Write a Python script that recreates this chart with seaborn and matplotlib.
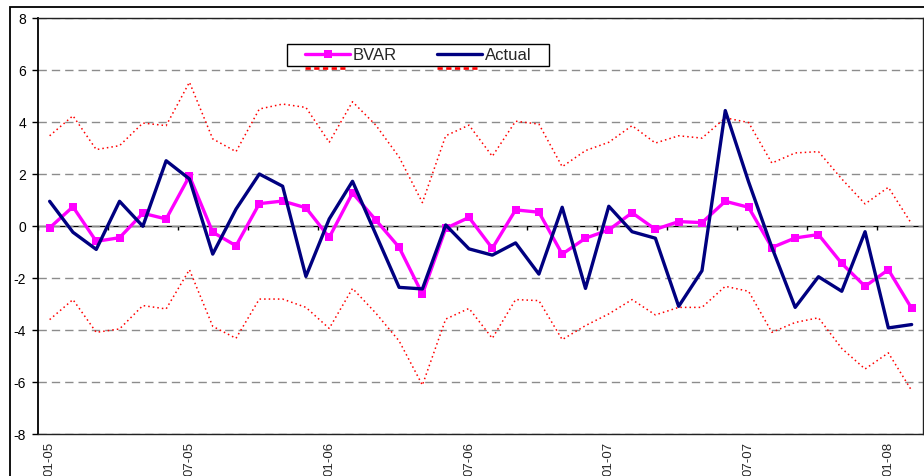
import numpy as np
import pandas as pd
import matplotlib
matplotlib.use("Agg")
import matplotlib.pyplot as plt
from matplotlib.patches import Rectangle
from matplotlib.lines import Line2D
from matplotlib.transforms import IdentityTransform
import seaborn as sns

# Monthly forecast evaluation window, Jan 2005 - Feb 2008
months = pd.date_range("2005-01-01", periods=38, freq="MS")
month_labels = [m.strftime("%m-%y") for m in months]

bvar = [-0.07, 0.74, -0.59, -0.45, 0.49, 0.27, 1.92, -0.24, -0.76, 0.86,
        0.96, 0.70, -0.44, 1.27, 0.23, -0.82, -2.62, -0.09, 0.33, -0.86,
        0.62, 0.53, -1.08, -0.47, -0.15, 0.51, -0.13, 0.17, 0.13, 0.95,
        0.72, -0.83, -0.46, -0.33, -1.44, -2.32, -1.68, -3.17]

actual = [0.95, -0.24, -0.90, 0.95, -0.01, 2.51, 1.81, -1.08, 0.65, 2.00,
          1.53, -1.94, 0.27, 1.72, -0.32, -2.36, -2.42, 0.04, -0.88, -1.12,
          -0.65, -1.85, 0.72, -2.40, 0.76, -0.22, -0.47, -3.09, -1.72, 4.44,
          1.70, -0.82, -3.13, -1.95, -2.51, -0.22, -3.92, -3.79]

upper = [3.47, 4.24, 2.94, 3.09, 3.96, 3.86, 5.53, 3.35, 2.86, 4.50,
         4.69, 4.56, 3.22, 4.78, 3.88, 2.65, 0.90, 3.47, 3.88, 2.68,
         4.03, 3.92, 2.28, 2.90, 3.22, 3.86, 3.19, 3.47, 3.38, 4.16,
         3.98, 2.42, 2.81, 2.86, 1.81, 0.85, 1.49, 0.08]

lower = [-3.60, -2.83, -4.09, -3.96, -3.06, -3.19, -1.68, -3.86, -4.32, -2.81,
         -2.81, -3.13, -3.94, -2.40, -3.35, -4.42, -6.12, -3.58, -3.17, -4.32,
         -2.83, -2.87, -4.37, -3.83, -3.38, -2.83, -3.42, -3.13, -3.13, -2.32,
         -2.51, -4.09, -3.71, -3.53, -4.71, -5.50, -4.88, -6.33]

y_ticks = [-8, -6, -4, -2, 0, 2, 4, 6, 8]
label_every = 6
minor_every = 3

df = pd.DataFrame({"t": np.arange(len(months)), "BVAR": bvar, "Actual": actual,
                   "Upper": upper, "Lower": lower})

sns.set_style("white")
plt.rcParams["font.family"] = ["Liberation Sans", "DejaVu Sans"]
plt.rcParams["axes.unicode_minus"] = False

W, H = 924, 477
fig = plt.figure(figsize=(W / 100, H / 100), dpi=100)
ax = fig.add_axes([38 / W, (H - 435) / H, (923.3 - 38) / W, (435 - 19) / H])

band_style = dict(color="#FF0000", linewidth=1.1, linestyle=(0, (1, 2)))
sns.lineplot(data=df, x="t", y="Upper", ax=ax, zorder=2, **band_style)
sns.lineplot(data=df, x="t", y="Lower", ax=ax, zorder=2, **band_style)
sns.lineplot(data=df, x="t", y="BVAR", ax=ax, color="#FF00FF", linewidth=2.4,
             marker="s", markersize=5.6, markeredgewidth=0, label="BVAR", zorder=3)
sns.lineplot(data=df, x="t", y="Actual", ax=ax, color="#000080", linewidth=2.4,
             label="Actual", zorder=4)

n = len(months)
ax.set_xlim(-0.5, n - 0.5)
ax.set_ylim(-8, 8)
ax.set_xlabel("")
ax.set_ylabel("")

# y axis
ax.set_yticks(y_ticks)
ax.set_yticklabels([str(v) for v in y_ticks])
ax.tick_params(axis="y", direction="out", length=4.5, width=1, pad=4.2,
               labelsize=10, colors="black", left=True)
ax.yaxis.grid(True, color="#8c8c8c", linewidth=1, linestyle=(0, (6, 3.6)))
ax.xaxis.grid(False)

# date labels along the bottom edge
pos = list(range(0, n, label_every))
ax.set_xticks(pos)
ax.set_xticklabels([month_labels[i] for i in pos], rotation=90, fontsize=9.5)
ax.tick_params(axis="x", length=0, pad=5.2)

for side in ["top", "right", "bottom"]:
    ax.spines[side].set_color("#222222")
    ax.spines[side].set_linewidth(1)
ax.spines["left"].set_color("black")
ax.spines["left"].set_linewidth(1.3)

# category axis drawn through zero
secax = ax.secondary_xaxis(0.5)
secax.set_xticks(np.arange(-0.5, n, minor_every))
secax.tick_params(axis="x", direction="in", length=3, width=1, labeltop=False,
                  labelbottom=False, colors="black")
for s in secax.spines.values():
    s.set_color("black")
    s.set_linewidth(1)

# legend
leg = ax.legend(loc="center left", bbox_to_anchor=(305 / W, (H - 56) / H),
                bbox_transform=fig.transFigure, ncol=2, frameon=False,
                fontsize=12, handlelength=2.7, handletextpad=0.18,
                columnspacing=2.4, borderpad=0, borderaxespad=0, numpoints=1)
leg.set_zorder(6)
frame = Rectangle((287 / W, (H - 66.5) / H), 262 / W, 21.5 / H,
                  transform=fig.transFigure, facecolor="white",
                  edgecolor="black", linewidth=1, zorder=5, clip_on=False)
ax.add_patch(frame)

# short band markers peeking under the legend box
fig.canvas.draw()
frame_bottom = H - 66.5
for h in leg.legend_handles:
    xd = np.asarray(h.get_xdata(), dtype=float)
    yd = np.asarray(h.get_ydata(), dtype=float)
    pts = h.get_transform().transform(np.column_stack([xd, yd]))
    x0, x1 = pts[:, 0].min(), pts[:, 0].max() - 5
    seg = Line2D([x0, x1], [frame_bottom - 2.2] * 2, transform=IdentityTransform(),
                 color="#FF0000", linewidth=1.9, linestyle=(0, (2.0, 1.3)),
                 solid_capstyle="butt", dash_capstyle="butt")
    fig.add_artist(seg)

# outer chart border
fig.add_artist(Rectangle((10 / W, -0.2), 1.5, (H - 8) / H + 0.2,
                         transform=fig.transFigure, fill=False,
                         edgecolor="black", linewidth=1.3))

fig.savefig("out.png", dpi=100)
